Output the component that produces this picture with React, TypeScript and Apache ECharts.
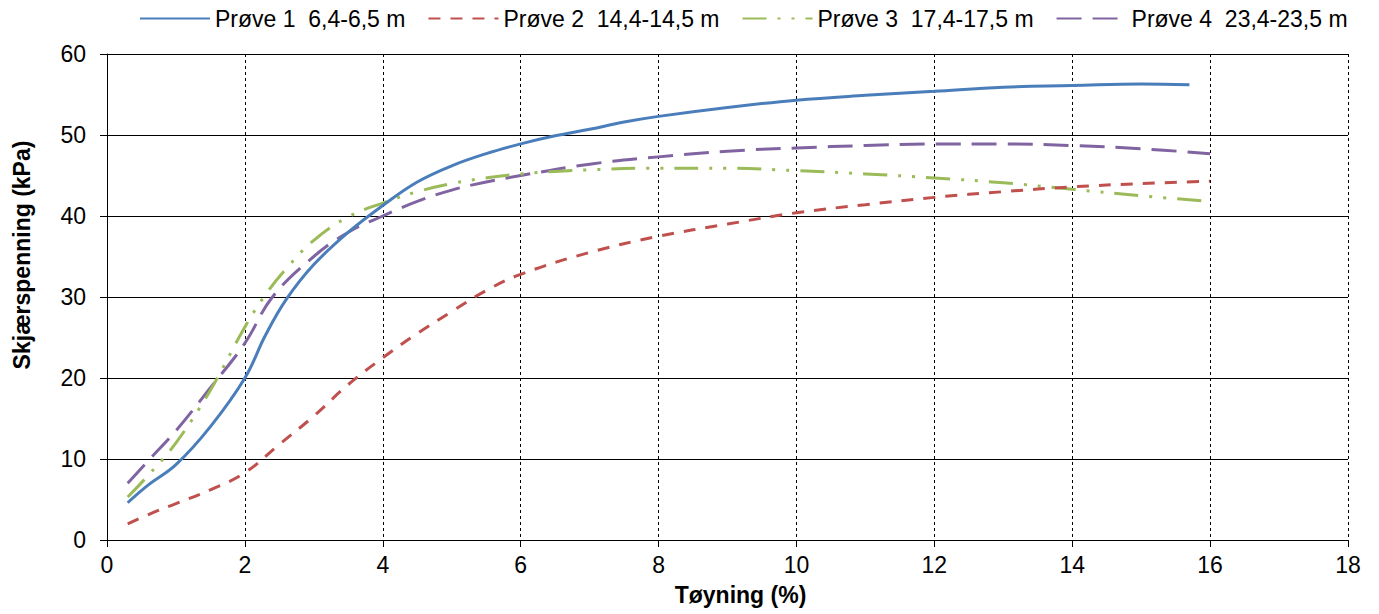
import React, { useEffect, useRef } from "react";
import * as echarts from "echarts";

const seriesNames = [
  "Prøve 1  6,4-6,5 m",
  "Prøve 2  14,4-14,5 m",
  "Prøve 3  17,4-17,5 m",
  "Prøve 4  23,4-23,5 m",
];

const x1 = [0.3, 0.6, 1, 1.5, 2, 2.3, 2.6, 3, 3.5, 4, 4.5, 5, 5.5, 6, 6.5, 7, 7.5, 8, 9, 10, 11, 12, 13, 14, 15, 15.7];
const y1 = [4.6, 6.8, 9.3, 14, 20, 25.3, 29.7, 34, 38, 41.3, 44.2, 46.2, 47.7, 48.9, 49.9, 50.7, 51.6, 52.3, 53.4, 54.3, 54.9, 55.4, 55.9, 56.1, 56.3, 56.2];

const x2 = [0.3, 0.7, 1, 1.5, 2, 2.5, 3, 3.5, 4, 4.5, 5, 5.5, 6, 7, 8, 9, 10, 11, 12, 13, 14, 15, 16];
const y2 = [2, 3.5, 4.5, 6.2, 8.3, 11.8, 15.3, 19.2, 22.5, 25.5, 28.2, 30.8, 32.8, 35.5, 37.5, 39, 40.4, 41.4, 42.3, 43, 43.6, 44, 44.3];

const x3 = [0.3, 0.6, 1, 1.5, 2, 2.3, 2.6, 3, 3.5, 4, 4.5, 5, 5.5, 6, 7, 8, 9, 10, 11, 12, 13, 14, 15, 16];
const y3 = [5.3, 8, 12, 18.5, 26.3, 30.3, 33.5, 37, 39.9, 41.6, 43, 44, 44.7, 45.2, 45.7, 45.9, 45.9, 45.6, 45.2, 44.7, 44.1, 43.3, 42.5, 41.8];

const x4 = [0.3, 0.6, 1, 1.5, 2, 2.4, 3, 3.5, 4, 4.5, 5, 5.5, 6, 7, 8, 9, 10, 11, 12, 13, 14, 15, 16];
const y4 = [7, 9.8, 13.5, 18.8, 24.3, 30, 35, 38, 40, 41.8, 43.2, 44.2, 45, 46.4, 47.3, 48, 48.4, 48.7, 48.9, 48.9, 48.7, 48.3, 47.7];

const xTicks = [0, 2, 4, 6, 8, 10, 12, 14, 16, 18];
const yTicks = [0, 10, 20, 30, 40, 50, 60];

const colors = ["#4A7EBB", "#C0504D", "#9BBB59", "#8064A2"];
const dashes: (string | number[])[] = ["solid", [12, 10], [24, 11, 3, 11, 3, 11], [25, 11]];

const zip = (xs: number[], ys: number[]) => xs.map((x, i) => [x, ys[i]]);

export default function App() {
  const ref = useRef<HTMLDivElement>(null);
  useEffect(() => {
    if (!ref.current) return;
    const chart = echarts.init(ref.current, undefined, { renderer: "svg" });
    const font = "'Liberation Sans', Arial, sans-serif";
    const data = [zip(x1, y1), zip(x2, y2), zip(x3, y3), zip(x4, y4)];
    chart.setOption({
      animation: false,
      backgroundColor: "#ffffff",
      textStyle: { fontFamily: font },
      legend: {
        left: 139,
        top: 7,
        padding: 0,
        itemWidth: 70,
        itemHeight: 14,
        itemGap: 22,
        itemStyle: { opacity: 0, color: "transparent", borderColor: "transparent", borderWidth: 0 },
        textStyle: { fontSize: 23, color: "#000", fontFamily: font },
        data: seriesNames,
      },
      grid: { left: 107, top: 54, width: 1241, height: 486, containLabel: false },
      xAxis: {
        type: "value",
        min: xTicks[0],
        max: xTicks[xTicks.length - 1],
        interval: 2,
        name: "Tøyning (%)",
        nameLocation: "middle",
        nameGap: 43,
        nameTextStyle: { fontSize: 23, fontWeight: "bold", color: "#000", fontFamily: font, padding: [0, 0, 0, 26] },
        axisLine: { show: true, onZero: false, lineStyle: { color: "#000", width: 1 } },
        axisTick: { show: true, length: 7, lineStyle: { color: "#000" } },
        axisLabel: { fontSize: 23, color: "#000", margin: 13, fontFamily: font },
        splitLine: { show: true, lineStyle: { color: "#000", width: 1, type: [3, 3] } },
      },
      yAxis: {
        type: "value",
        min: yTicks[0],
        max: yTicks[yTicks.length - 1],
        interval: 10,
        name: "Skjærspenning (kPa)",
        nameLocation: "middle",
        nameGap: 74,
        nameTextStyle: { fontSize: 23, fontWeight: "bold", color: "#000", fontFamily: font, padding: [0, 0, 0, 84] },
        axisLine: { show: true, lineStyle: { color: "#000", width: 1 } },
        axisTick: { show: true, length: 7, lineStyle: { color: "#000" } },
        axisLabel: { fontSize: 23, color: "#000", margin: 21, fontFamily: font },
        splitLine: { show: true, lineStyle: { color: "#000", width: 1, type: "solid" } },
      },
      series: seriesNames.map((name, i) => ({
        name,
        type: "line",
        data: data[i],
        smooth: 0.4,
        symbol: "none",
        color: colors[i],
        lineStyle: { color: colors[i], width: 3, type: dashes[i] },
        z: 10 - i,
      })),
    });
    return () => chart.dispose();
  }, []);
  return (
    <div
      ref={ref}
      style={{ position: "fixed", left: 0, top: 0, width: 1379, height: 614 }}
    />
  );
}
